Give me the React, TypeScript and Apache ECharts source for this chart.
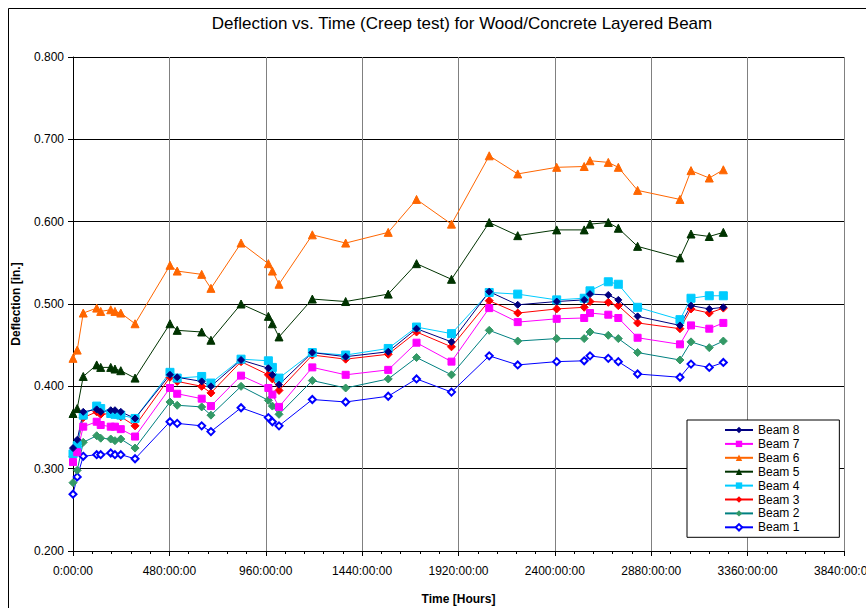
import React, { useEffect, useRef } from "react";
import * as echarts from "echarts";

const hours = [0, 21, 51, 118, 138, 188, 209, 238, 309, 483, 519, 641, 687, 837, 973, 993, 1026, 1192, 1358, 1570, 1711, 1885, 2073, 2215, 2409, 2546, 2575, 2666, 2716, 2812, 3023, 3078, 3169, 3239];

const beam8 = [0.325, 0.335, 0.369, 0.372, 0.369, 0.371, 0.371, 0.369, 0.361, 0.414, 0.411, 0.406, 0.400, 0.432, 0.422, 0.414, 0.402, 0.441, 0.436, 0.442, 0.470, 0.454, 0.515, 0.499, 0.503, 0.505, 0.512, 0.511, 0.505, 0.485, 0.474, 0.498, 0.494, 0.496];
const beam7 = [0.308, 0.320, 0.351, 0.357, 0.353, 0.351, 0.351, 0.348, 0.339, 0.398, 0.391, 0.385, 0.376, 0.413, 0.398, 0.390, 0.375, 0.423, 0.414, 0.420, 0.453, 0.430, 0.495, 0.478, 0.482, 0.483, 0.489, 0.487, 0.483, 0.459, 0.451, 0.474, 0.470, 0.477];
const beam6 = [0.434, 0.444, 0.489, 0.495, 0.491, 0.493, 0.491, 0.489, 0.476, 0.547, 0.540, 0.536, 0.519, 0.574, 0.549, 0.540, 0.524, 0.584, 0.574, 0.587, 0.627, 0.597, 0.680, 0.658, 0.666, 0.667, 0.674, 0.672, 0.666, 0.638, 0.627, 0.662, 0.653, 0.663];
const beam5 = [0.367, 0.373, 0.412, 0.426, 0.423, 0.423, 0.421, 0.419, 0.410, 0.476, 0.468, 0.466, 0.456, 0.500, 0.485, 0.476, 0.460, 0.506, 0.503, 0.512, 0.549, 0.530, 0.599, 0.583, 0.590, 0.590, 0.597, 0.599, 0.592, 0.570, 0.556, 0.585, 0.582, 0.587];
const beam4 = [0.318, 0.328, 0.365, 0.376, 0.373, 0.367, 0.366, 0.365, 0.361, 0.417, 0.410, 0.412, 0.404, 0.433, 0.431, 0.423, 0.410, 0.441, 0.438, 0.446, 0.472, 0.464, 0.514, 0.512, 0.505, 0.507, 0.516, 0.527, 0.524, 0.496, 0.481, 0.507, 0.510, 0.510];
const beam3 = [0.315, 0.327, 0.362, 0.369, 0.366, 0.367, 0.366, 0.363, 0.352, 0.411, 0.406, 0.400, 0.392, 0.430, 0.414, 0.409, 0.395, 0.438, 0.433, 0.439, 0.466, 0.448, 0.504, 0.489, 0.494, 0.496, 0.503, 0.502, 0.498, 0.477, 0.470, 0.494, 0.489, 0.495];
const beam2 = [0.283, 0.298, 0.332, 0.340, 0.337, 0.336, 0.334, 0.336, 0.325, 0.381, 0.377, 0.375, 0.365, 0.400, 0.383, 0.376, 0.366, 0.407, 0.398, 0.409, 0.435, 0.414, 0.468, 0.455, 0.458, 0.458, 0.466, 0.462, 0.458, 0.441, 0.432, 0.454, 0.447, 0.455];
const beam1 = [0.269, 0.290, 0.315, 0.317, 0.317, 0.319, 0.317, 0.317, 0.312, 0.357, 0.355, 0.352, 0.345, 0.374, 0.362, 0.357, 0.352, 0.384, 0.381, 0.388, 0.409, 0.393, 0.437, 0.426, 0.430, 0.431, 0.437, 0.434, 0.430, 0.415, 0.411, 0.427, 0.423, 0.429];

const legendOrder = ["Beam 8", "Beam 7", "Beam 6", "Beam 5", "Beam 4", "Beam 3", "Beam 2", "Beam 1"];

const FONT = "'Liberation Sans', Arial, sans-serif";

function pairs(vals: number[]) {
  return hours.map((h, i) => [h, vals[i]]);
}

export default function App() {
  const ref = useRef<HTMLDivElement>(null);
  useEffect(() => {
    if (!ref.current) return;
    const chart = echarts.init(ref.current, null, { renderer: "svg" });
    const mk = (name: string, vals: number[], line: string, symbol: string, size: number, fill: string, extra: any = {}) => ({
      name,
      type: "line",
      data: pairs(vals),
      symbol,
      symbolSize: size,
      lineStyle: { color: line, width: 1 },
      itemStyle: { color: fill, borderColor: fill, ...extra },
      emphasis: { disabled: true },
    });
    const series = [
      mk("Beam 1", beam1, "#0000FF", "emptyDiamond", 7, "#0000FF", { borderWidth: 1 }),
      mk("Beam 2", beam2, "#008080", "diamond", 8, "#339966"),
      mk("Beam 3", beam3, "#FF0000", "diamond", 8, "#FF0000"),
      mk("Beam 4", beam4, "#00CCFF", "rect", 8, "#00CCFF"),
      mk("Beam 5", beam5, "#003300", "triangle", 8, "#003300"),
      mk("Beam 6", beam6, "#FF6600", "triangle", 8, "#FF6600"),
      mk("Beam 7", beam7, "#FF00FF", "rect", 7, "#FF00FF"),
      mk("Beam 8", beam8, "#000080", "diamond", 7, "#000080"),
    ];
    chart.setOption({
      animation: false,
      backgroundColor: "#ffffff",
      textStyle: { fontFamily: FONT },
      title: {
        text: "Deflection vs. Time (Creep test) for Wood/Concrete Layered Beam",
        left: 457,
        textAlign: "center",
        top: 10,
        textStyle: { fontFamily: FONT, fontSize: 17, fontWeight: "normal", color: "#000" },
      },
      graphic: [
        {
          type: "rect",
          shape: { x: 8.5, y: 8.5, width: 1000, height: 1000 },
          style: { fill: "none", stroke: "#000", lineWidth: 1 },
          silent: true,
        },
      ],
      legend: {
        orient: "vertical",
        left: 687,
        top: 420,
        data: legendOrder,
        itemWidth: 28,
        itemHeight: 8,
        itemGap: 1.9,
        padding: [4, 40, 4, 37],
        backgroundColor: "#ffffff",
        borderColor: "#000",
        borderWidth: 1,
        borderRadius: 0,
        textStyle: { fontFamily: FONT, fontSize: 12, color: "#000", padding: [0, 0, 0, 0] },
      },
      grid: { left: 73, top: 57, right: 22, bottom: 57, containLabel: false, outerBoundsMode: "none" },
      xAxis: {
        type: "value",
        min: 0,
        max: 3840,
        interval: 480,
        name: "Time [Hours]",
        nameLocation: "middle",
        nameGap: 42,
        nameTextStyle: { fontFamily: FONT, fontSize: 12, fontWeight: "bold", color: "#000" },
        axisLine: { show: true, lineStyle: { color: "#000", width: 1 } },
        axisTick: { show: true, length: 5, lineStyle: { color: "#000" } },
        minorTick: { show: true, splitNumber: 5, length: 3, lineStyle: { color: "#000" } },
        axisLabel: {
          fontFamily: FONT,
          fontSize: 12,
          color: "#000",
          margin: 14,
          showMaxLabel: true,
          hideOverlap: false,
          formatter: (v: number) => `${v}:00:00`,
        },
        splitLine: { show: true, lineStyle: { color: "#808080", width: 1 } },
      },
      yAxis: {
        type: "value",
        min: 0.2,
        max: 0.8,
        interval: 0.1,
        name: "Deflection [in.]",
        nameLocation: "middle",
        nameGap: 51,
        nameTextStyle: { fontFamily: FONT, fontSize: 12, fontWeight: "bold", color: "#000" },
        axisLine: { show: true, lineStyle: { color: "#000", width: 1 } },
        axisTick: { show: true, length: 5, lineStyle: { color: "#000" } },
        axisLabel: {
          fontFamily: FONT,
          fontSize: 12,
          color: "#000",
          margin: 9,
          formatter: (v: number) => v.toFixed(3),
        },
        splitLine: { show: true, lineStyle: { color: "#000", width: 1 } },
      },
      series,
    });
    return () => chart.dispose();
  }, []);
  return (
    <div
      ref={ref}
      style={{ position: "fixed", left: 0, top: 0, width: 866, height: 608, background: "#fff" }}
    />
  );
}
